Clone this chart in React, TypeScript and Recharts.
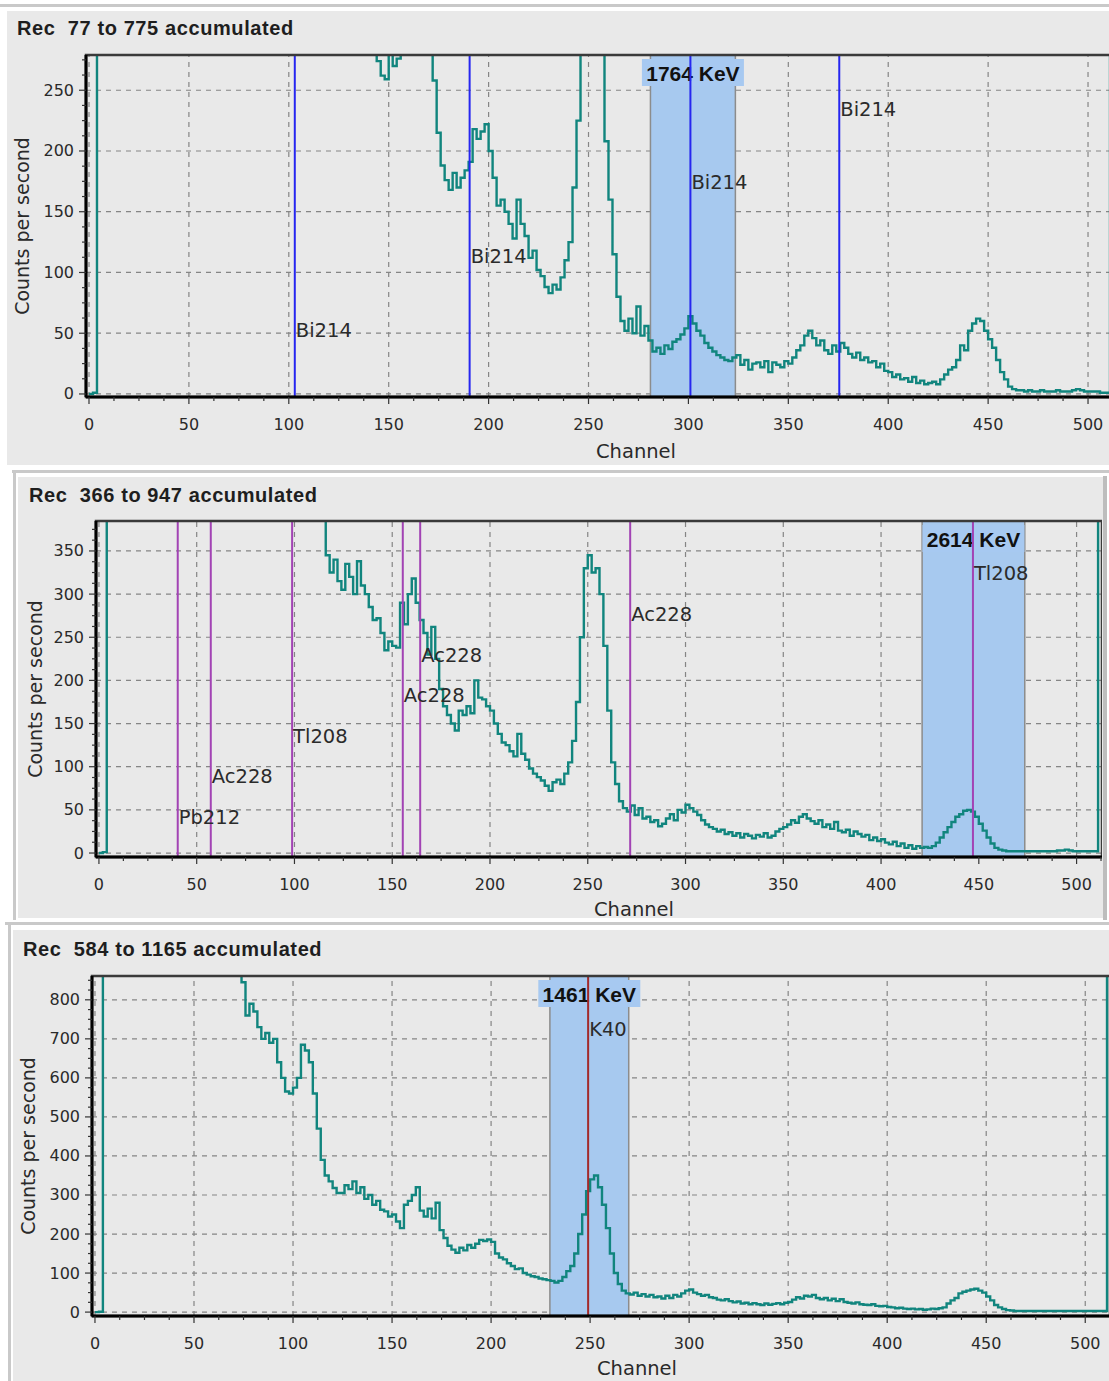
import React from "react";
import { LineChart, Line, XAxis, YAxis, ReferenceLine, ReferenceArea, ReferenceDot } from "recharts";

// channel bins (2-channel steps) plus the overflow channel 511
const channels = [...Array(256).keys()].map((i) => i * 2).concat(511);

const rec77Counts = [
  0, 1, 2650, 3400, 3900, 4200, 4100, 3800, 3500, 3200, 2900, 2700, 2500, 2350, 2200, 2050, 1900, 1780, 1660, 1550, 1450, 1360, 1280, 1200, 1130,
  1070, 1010, 960, 920, 880, 850, 820, 790, 760, 740, 720, 700, 690, 680, 670, 655, 640, 625, 610, 600, 590, 575, 560, 545, 530,
  515, 500, 490, 478, 465, 452, 440, 428, 418, 405, 395, 385, 375, 365, 355, 345, 336, 327, 318, 310, 302, 290, 274, 262, 259,
  285, 270, 276, 292, 305, 318, 330, 340, 335, 310, 285, 258, 215, 188, 176, 168, 182, 170, 178, 184, 191, 218, 210, 216, 222,
  200, 178, 155, 160, 150, 140, 128, 160, 140, 130, 112, 118, 102, 97, 88, 83, 90, 86, 96, 110, 125, 170, 225, 330, 520,
  900, 1150, 980, 420, 208, 160, 115, 80, 60, 52, 62, 50, 72, 48, 56, 44, 35, 38, 33, 40, 37, 43, 45, 49, 54,
  64, 58, 52, 48, 42, 38, 35, 32, 30, 28, 27, 30, 32, 24, 28, 20, 25, 26, 22, 27, 18, 26, 24, 22, 27,
  25, 30, 36, 40, 48, 52, 46, 40, 44, 36, 33, 40, 35, 42, 38, 33, 30, 34, 28, 30, 26, 27, 22, 25, 19,
  18, 14, 16, 12, 13, 10, 14, 9, 11, 8, 9, 10, 8, 12, 16, 20, 22, 28, 40, 36, 52, 58, 62, 60, 52,
  45, 38, 28, 18, 12, 6, 4, 3, 3, 2, 3, 2, 2, 3, 2, 2, 2, 3, 2, 2, 2, 3, 4, 3, 2,
  2, 2, 2, 1, 1, 1, 4000,
];

const rec366Counts = [
  0, 1, 3000, 3800, 4300, 4500, 4300, 4000, 3700, 3400, 3100, 2850, 2650, 2450, 2280, 2120, 1980, 1850, 1730, 1620, 1520, 1430, 1350, 1280, 1210,
  1150, 1090, 1040, 990, 950, 910, 870, 840, 810, 780, 750, 725, 700, 680, 660, 640, 620, 600, 585, 570, 555, 540, 525, 510, 500,
  490, 480, 470, 460, 450, 435, 420, 390, 345, 325, 340, 315, 305, 335, 320, 300, 338, 310, 300, 285, 270, 272, 255, 235, 245,
  240, 238, 290, 265, 300, 318, 290, 270, 255, 230, 262, 225, 190, 170, 160, 150, 142, 165, 160, 170, 162, 200, 180, 178, 170,
  165, 150, 138, 128, 125, 118, 112, 138, 115, 108, 98, 92, 88, 84, 78, 72, 82, 85, 80, 92, 105, 130, 175, 250, 330,
  345, 325, 330, 300, 240, 165, 105, 80, 60, 52, 48, 55, 44, 52, 40, 42, 36, 38, 31, 34, 40, 45, 38, 50, 47,
  56, 52, 48, 44, 38, 33, 30, 28, 25, 27, 22, 24, 20, 23, 18, 22, 20, 17, 21, 19, 23, 18, 20, 25, 28,
  30, 33, 38, 35, 42, 45, 40, 37, 34, 38, 30, 33, 28, 36, 26, 24, 27, 20, 25, 22, 19, 21, 15, 18, 14,
  16, 12, 10, 13, 8, 11, 6, 9, 5, 8, 6, 7, 6, 8, 12, 18, 24, 30, 36, 42, 45, 49, 50, 48, 42,
  34, 26, 18, 11, 6, 4, 3, 2, 2, 2, 2, 2, 2, 2, 2, 2, 2, 2, 2, 2, 3, 3, 4, 3, 2,
  2, 2, 2, 2, 2, 2, 5000,
];

const rec584Counts = [
  0, 1, 4200, 5400, 6100, 6400, 6200, 5800, 5300, 4900, 4500, 4150, 3850, 3550, 3300, 3050, 2850, 2650, 2480, 2320, 2180, 2050, 1930, 1820, 1720,
  1630, 1550, 1470, 1400, 1340, 1280, 1220, 1160, 1100, 1040, 980, 920, 845, 760, 790, 770, 730, 700, 715, 690, 700, 640, 600, 565, 560,
  575, 600, 685, 670, 640, 560, 470, 390, 350, 335, 318, 305, 305, 325, 315, 335, 305, 320, 290, 300, 275, 285, 262, 258, 245,
  250, 232, 215, 275, 285, 300, 320, 260, 245, 265, 240, 280, 210, 190, 170, 160, 152, 165, 158, 172, 165, 175, 185, 182, 186,
  180, 150, 140, 135, 125, 118, 110, 112, 100, 96, 92, 90, 86, 84, 82, 80, 76, 80, 90, 105, 118, 150, 200, 250, 310,
  340, 350, 320, 275, 215, 150, 100, 72, 55, 48, 45, 50, 42, 46, 40, 44, 38, 40, 35, 42, 36, 44, 40, 48, 55,
  58, 50, 46, 42, 44, 38, 36, 32, 30, 33, 28, 25, 27, 22, 24, 20, 23, 20, 18, 22, 19, 21, 23, 20, 24,
  26, 32, 38, 35, 42, 40, 44, 36, 33, 36, 30, 34, 28, 33, 26, 24, 22, 25, 20, 19, 18, 20, 16, 15, 16,
  13, 12, 10, 11, 9, 8, 9, 7, 8, 6, 7, 9, 8, 10, 12, 22, 30, 36, 48, 52, 55, 58, 60, 55, 50,
  40, 30, 18, 12, 8, 5, 4, 3, 3, 3, 3, 3, 3, 3, 3, 3, 3, 3, 3, 3, 3, 3, 3, 3, 3,
  3, 3, 3, 3, 3, 3, 6000,
];

const xMajorTicks = [0, 50, 100, 150, 200, 250, 300, 350, 400, 450, 500];
const rec77YTicks = [0, 50, 100, 150, 200, 250];
const rec366YTicks = [0, 50, 100, 150, 200, 250, 300, 350];
const rec584YTicks = [0, 100, 200, 300, 400, 500, 600, 700, 800];

const rec77Markers = [
  { ch: 103, name: "Bi214", labelAt: 52 },
  { ch: 190.5, name: "Bi214", labelAt: 113 },
  { ch: 301, name: "Bi214", labelAt: 174 },
  { ch: 375.5, name: "Bi214", labelAt: 234 },
];
const rec366Markers = [
  { ch: 40.3, name: "Pb212", labelAt: 41 },
  { ch: 57.2, name: "Ac228", labelAt: 89 },
  { ch: 98.8, name: "Tl208", labelAt: 134.5 },
  { ch: 155.4, name: "Ac228", labelAt: 182 },
  { ch: 164.3, name: "Ac228", labelAt: 229 },
  { ch: 271.7, name: "Ac228", labelAt: 276.5 },
  { ch: 447, name: "Tl208", labelAt: 324 },
];
const rec584Markers = [{ ch: 249, name: "K40", labelAt: 725 }];

const SANS = "'DejaVu Sans', sans-serif";
const ARIAL = "'Liberation Sans', Arial, sans-serif";

function XTick(props: any) {
  const { x, y, payload } = props;
  const v = payload.value;
  const major = v % 50 === 0;
  return (
    <g>
      <line x1={x} x2={x} y1={y} y2={y + (major ? 7 : 4)} stroke="#333" strokeWidth={1.2} />
      {major && (
        <text x={x} y={y + 27} textAnchor="middle" dominantBaseline="central" fontFamily={SANS} fontSize={16} fill="#2a2a2a">
          {v}
        </text>
      )}
    </g>
  );
}

function YTick(props: any) {
  const { x, y, payload, majors } = props;
  const v = payload.value;
  const major = majors.includes(v);
  return (
    <g>
      <line x1={x - (major ? 7 : 4)} x2={x} y1={y} y2={y} stroke="#333" strokeWidth={1.2} />
      {major && (
        <text x={x - 12} y={y} textAnchor="end" dominantBaseline="central" fontFamily={SANS} fontSize={16} fill="#2a2a2a">
          {v}
        </text>
      )}
    </g>
  );
}

type PanelProps = {
  counts: number[];
  top: number;
  width: number;
  height: number;
  plotTop: number;
  plotLeft: number;
  plotBottom: number;
  xDomain: [number, number];
  yDomain: [number, number];
  yMajors: number[];
  yMinorStep: number;
  markers: { ch: number; name: string; labelAt: number }[];
  markerColor: string;
  band: [number, number];
  bandLabel: string;
  yLabelX: number;
  xLabelX: number;
  xLabelDy: number;
};

function SpectrumPanel(p: PanelProps) {
  const data = channels.map((ch, i) => ({ ch, v: p.counts[i] }));
  const xTicks = [...Array(42).keys()].map((i) => i * 12.5).filter((t) => t <= p.xDomain[1]);
  const yTicks = [...Array(80).keys()].map((i) => i * p.yMinorStep).filter((t) => t <= p.yDomain[1]);
  const bandMid = (p.band[0] + p.band[1]) / 2;
  const midY = (p.plotTop + p.plotBottom) / 2;

  return (
    <div style={{ position: "absolute", left: 0, top: p.top }}>
      <LineChart
        width={p.width}
        height={p.height}
        data={data}
        margin={{ top: p.plotTop, right: 0, bottom: 0, left: 0 }}
      >
        {xMajorTicks.map((t) => (
          <ReferenceLine key={"gx" + t} x={t} stroke="#858585" strokeWidth={1.2} strokeDasharray="5 5" zIndex={-50} />
        ))}
        {p.yMajors.map((t) => (
          <ReferenceLine key={"gy" + t} y={t} stroke="#858585" strokeWidth={1.2} strokeDasharray="5 5" zIndex={-50} />
        ))}
        <ReferenceArea
          x1={p.band[0]}
          x2={p.band[1]}
          fill="#a7c9ef"
          fillOpacity={1}
          stroke="#8c8c8c"
          strokeWidth={1.5}
          zIndex={-40}
        />
        <ReferenceDot
          x={bandMid}
          y={p.yDomain[1]}
          ifOverflow="visible"
          zIndex={-30}
          shape={(s: any) => (
            <g>
              <rect x={s.cx - 51} y={s.cy + 4} width={102} height={27} fill="#a7c9f1" />
              <text x={s.cx} y={s.cy + 18} textAnchor="middle" dominantBaseline="central" fontFamily={ARIAL} fontWeight="bold" fontSize={21} fill="#111">
                {p.bandLabel}
              </text>
            </g>
          )}
        />
        <XAxis
          type="number"
          dataKey="ch"
          domain={p.xDomain}
          ticks={xTicks}
          interval={0}
          allowDataOverflow
          height={p.height - p.plotBottom}
          tickSize={0}
          tickMargin={0}
          tickLine={false}
          axisLine={{ stroke: "#000", strokeWidth: 3 }}
          tick={XTick}
          label={() => (
            <text x={p.xLabelX} y={p.plotBottom + p.xLabelDy} textAnchor="middle" dominantBaseline="central" fontFamily={SANS} fontSize={19.5} fill="#2a2a2a">
              Channel
            </text>
          )}
        />
        <YAxis
          type="number"
          domain={p.yDomain}
          ticks={yTicks}
          interval={0}
          allowDataOverflow
          width={p.plotLeft}
          tickSize={0}
          tickMargin={0}
          tickLine={false}
          axisLine={{ stroke: "#000", strokeWidth: 3 }}
          tick={(t: any) => <YTick {...t} majors={p.yMajors} />}
          label={() => (
            <text
              x={p.yLabelX}
              y={midY}
              transform={`rotate(-90, ${p.yLabelX}, ${midY})`}
              textAnchor="middle"
              dominantBaseline="central"
              fontFamily={SANS}
              fontSize={19}
              fill="#2a2a2a"
            >
              Counts per second
            </text>
          )}
        />
        <Line
          type="stepAfter"
          dataKey="v"
          stroke="#11857e"
          strokeWidth={2.4}
          dot={false}
          isAnimationActive={false}
        />
        {p.markers.map((m, i) => (
          <ReferenceLine key={"m" + i} x={m.ch} stroke={p.markerColor} strokeWidth={2} zIndex={450} />
        ))}
        {p.markers.map((m, i) => (
          <ReferenceDot
            key={"ml" + i}
            x={m.ch}
            y={m.labelAt}
            zIndex={460}
            shape={(s: any) => (
              <text x={s.cx + 1} y={s.cy} dominantBaseline="central" fontFamily={SANS} fontSize={19.5} fill="#2b2b2b">
                {m.name}
              </text>
            )}
          />
        ))}
        <ReferenceArea
          x1={p.xDomain[0]}
          x2={p.xDomain[1]}
          y1={p.yDomain[0]}
          y2={p.yDomain[1]}
          fill="none"
          stroke="#3a3a3a"
          strokeWidth={2.5}
          zIndex={470}
        />
      </LineChart>
    </div>
  );
}

const titleStyle: React.CSSProperties = {
  position: "absolute",
  fontFamily: ARIAL,
  fontWeight: "bold",
  fontSize: 20,
  letterSpacing: 0.6,
  color: "#1e1e1e",
  whiteSpace: "pre",
  lineHeight: "24px",
};

const box = (s: React.CSSProperties): React.CSSProperties => ({ position: "absolute", ...s });

export default function App() {
  return (
    <div style={{ position: "absolute", left: 0, top: 0, width: 1109, height: 1381, overflow: "hidden", background: "#fff" }}>
      {/* panel 1 frame */}
      <div style={box({ left: 0, top: 4, width: 1109, height: 3, background: "#c9c9c9" })} />
      <div style={box({ left: 7, top: 11, width: 1102, height: 454, background: "#e9e9e9" })} />
      {/* panel 2 frame */}
      <div style={box({ left: 12, top: 470, width: 1097, height: 3, background: "#c9c9c9" })} />
      <div style={box({ left: 13, top: 470, width: 3, height: 450, background: "#c9c9c9" })} />
      <div style={box({ left: 1103, top: 476, width: 4, height: 444, background: "#bdbdbd" })} />
      <div style={box({ left: 18, top: 477, width: 1085, height: 441, background: "#e9e9e9" })} />
      {/* panel 3 frame */}
      <div style={box({ left: 5, top: 922, width: 1104, height: 3, background: "#c9c9c9" })} />
      <div style={box({ left: 8, top: 922, width: 3, height: 459, background: "#c9c9c9" })} />
      <div style={box({ left: 13, top: 930, width: 1096, height: 451, background: "#e9e9e9" })} />

      <div style={{ ...titleStyle, left: 17, top: 16 }}>{"Rec  77 to 775 accumulated"}</div>
      <div style={{ ...titleStyle, left: 29, top: 483 }}>{"Rec  366 to 947 accumulated"}</div>
      <div style={{ ...titleStyle, left: 23, top: 937 }}>{"Rec  584 to 1165 accumulated"}</div>

      <SpectrumPanel
        counts={rec77Counts}
        top={0}
        width={1113}
        height={465}
        plotTop={55}
        plotLeft={86}
        plotBottom={397}
        xDomain={[-1.5, 512.5]}
        yDomain={[-2.5, 279]}
        yMajors={rec77YTicks}
        yMinorStep={12.5}
        markers={rec77Markers}
        markerColor="#2626f0"
        band={[281, 323.5]}
        bandLabel="1764 KeV"
        yLabelX={22}
        xLabelX={636}
        xLabelDy={54}
      />
      <SpectrumPanel
        counts={rec366Counts}
        top={470}
        width={1102}
        height={450}
        plotTop={51}
        plotLeft={96}
        plotBottom={387}
        xDomain={[-1.5, 513]}
        yDomain={[-4.6, 384.7]}
        yMajors={rec366YTicks}
        yMinorStep={12.5}
        markers={rec366Markers}
        markerColor="#a243b4"
        band={[421, 473.5]}
        bandLabel="2614 KeV"
        yLabelX={35}
        xLabelX={634}
        xLabelDy={52}
      />
      <SpectrumPanel
        counts={rec584Counts}
        top={925}
        width={1110}
        height={456}
        plotTop={51}
        plotLeft={92}
        plotBottom={391}
        xDomain={[-1.5, 512.5]}
        yDomain={[-10, 861]}
        yMajors={rec584YTicks}
        yMinorStep={25}
        markers={rec584Markers}
        markerColor="#a32a2a"
        band={[229.7, 269.5]}
        bandLabel="1461 KeV"
        yLabelX={28}
        xLabelX={637}
        xLabelDy={52}
      />
    </div>
  );
}
